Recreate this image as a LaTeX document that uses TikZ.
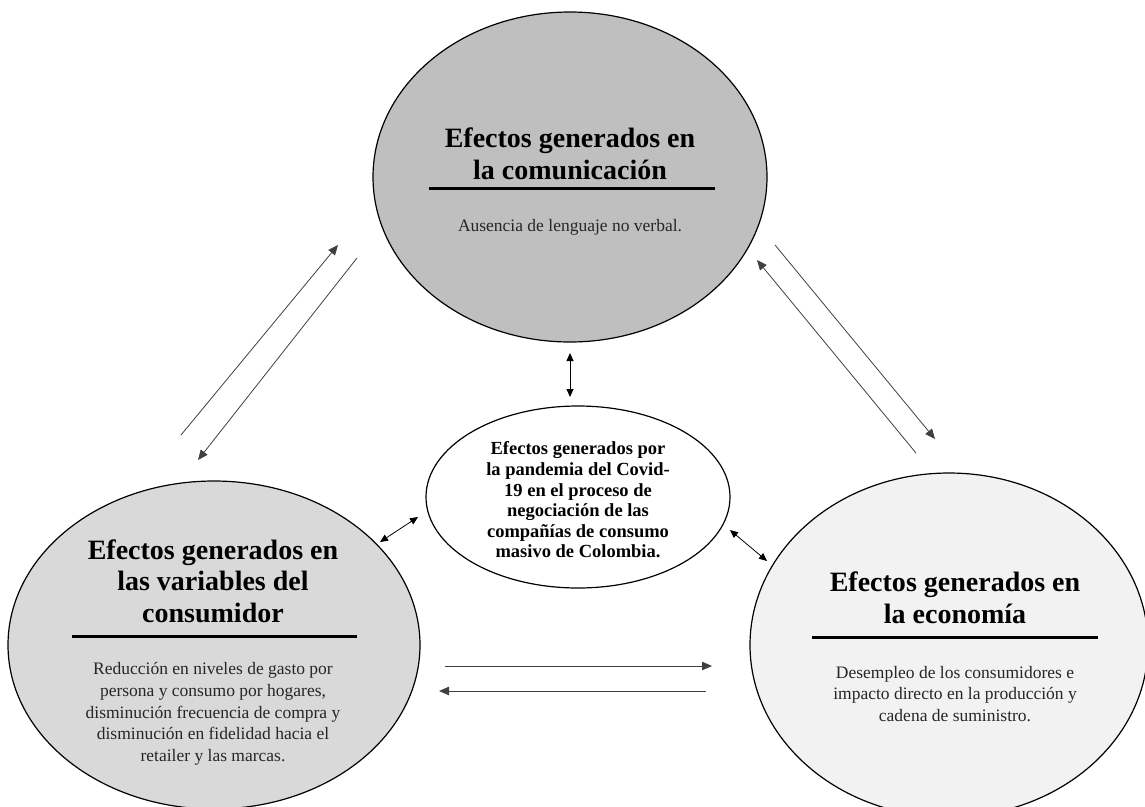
\documentclass[tikz,border=0pt]{standalone}
\usepackage{fontspec}
\setmainfont{Liberation Serif}
\usetikzlibrary{arrows.meta,shapes.geometric}

\definecolor{darkfill}{HTML}{BFBFBF}
\definecolor{midfill}{HTML}{D9D9D9}
\definecolor{lightfill}{HTML}{F2F2F2}

\tikzset{
  blob/.style={draw,ellipse,inner sep=0pt,line width=1.2pt},
  heading/.style={align=center,font=\fontsize{28}{31.5}\selectfont\bfseries},
  bodytext/.style={align=center,text=black!85,font=\fontsize{17.5}{21.7}\selectfont},
  rule/.style={line width=3pt},
  arr/.style={-{Triangle[length=10pt,width=8.5pt]},draw=black!75,line width=0.8pt},
  twoway/.style={{Triangle[length=8pt,width=7pt]}-{Triangle[length=8pt,width=7pt]},line width=0.8pt}
}

\begin{document}
\begin{tikzpicture}[x=1pt,y=-1pt]
			\useasboundingbox (0,0) rectangle (1145,806);
			\clip (0,0) rectangle (1145,806);

			% the four ellipses
			\node[blob,fill=darkfill,minimum width=394pt,minimum height=330pt]  (com) at (570,177) {};
			\node[blob,fill=midfill,minimum width=412pt,minimum height=328pt]   (con) at (214,645) {};
			\node[blob,fill=lightfill,minimum width=398pt,minimum height=344pt] (eco) at (949,645) {};
			\node[blob,fill=white,minimum width=304pt,minimum height=182pt]     (pan) at (578,497) {};

			% texts
			\node[heading]  (comtitle) at (570,154) {Efectos generados en\\la comunicación};
			\node[bodytext] (combody)  at (570,227) {Ausencia de lenguaje no verbal.};
			\node[heading]  (contitle) at (213,581) {Efectos generados en\\las variables del\\consumidor};
			\node[bodytext] (conbody)  at (213,714) {Reducción en niveles de gasto por\\persona y consumo por hogares,\\disminución frecuencia de compra y\\disminución en fidelidad hacia el\\retailer y las marcas.};
			\node[heading]  (ecotitle) at (955,598) {Efectos generados en\\la economía};
			\node[bodytext] (ecobody)  at (955,694) {Desempleo de los consumidores e\\impacto directo en la producción y\\cadena de suministro.};
			\node[align=center,font=\fontsize{18.5}{20.6}\selectfont\bfseries] (pantext) at (578,500)
				{Efectos generados por\\la pandemia del Covid-\\19 en el proceso de\\negociación de las\\compañías de consumo\\masivo de Colombia.};

			% rules under the titles
			\draw[rule] (429,188) -- (715,188);
			\draw[rule] (72,636) -- (357,636);
			\draw[rule] (812,637) -- (1098,637);

			% arrow end points
			\coordinate (l1s) at (181,435);  \coordinate (l1e) at (338,245);
			\coordinate (l2s) at (357,258);  \coordinate (l2e) at (198,460);
			\coordinate (r1s) at (775,245);  \coordinate (r1e) at (935,439);
			\coordinate (r2s) at (916,453);  \coordinate (r2e) at (757,260);
			\coordinate (b1s) at (445,666);  \coordinate (b1e) at (712,666);
			\coordinate (b2s) at (706,691);  \coordinate (b2e) at (439,691);
			\coordinate (ct) at (570,353);   \coordinate (cb) at (570,397);
			\coordinate (lc1) at (380,542);  \coordinate (lc2) at (418,517);
			\coordinate (rc1) at (730,530);  \coordinate (rc2) at (767,561);

			\def\oneway {l1s/l1e, l2s/l2e, r1s/r1e, r2s/r2e, b1s/b1e, b2s/b2e}
			\foreach \u/\v in \oneway
			{	\draw[arr] (\u) -- (\v);
			}
			\def\bothways {ct/cb, lc1/lc2, rc1/rc2}
			\foreach \u/\v in \bothways
			{	\draw[twoway] (\u) -- (\v);
			}
		\end{tikzpicture}
\end{document}
